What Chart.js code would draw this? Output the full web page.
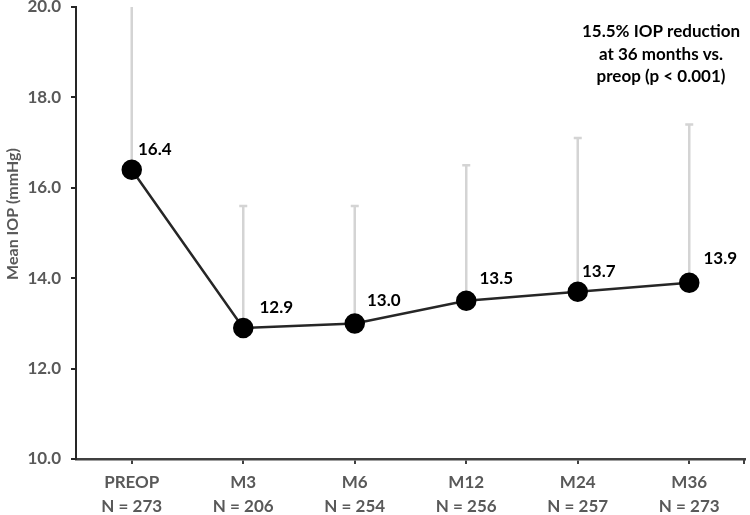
<!DOCTYPE html>
<html>
<head>
<meta charset="utf-8">
<script src="https://cdn.jsdelivr.net/npm/chart.js@4.4.1/dist/chart.umd.min.js"></script>
<style>
  html, body { margin: 0; padding: 0; background: #fff; }
  #wrap { width: 750px; height: 515px; position: relative; }
</style>
</head>
<body>
<div id="wrap"><canvas id="c"></canvas></div>
<script>
const categories = ['PREOP', 'M3', 'M6', 'M12', 'M24', 'M36'];
const sampleSizes = [273, 206, 254, 256, 257, 273];
const meanIOP = [16.4, 12.9, 13.0, 13.5, 13.7, 13.9];
const upperBar = [20.4, 15.6, 15.6, 16.5, 17.1, 17.4];
const yTicks = [10, 12, 14, 16, 18, 20];
const yTitle = 'Mean IOP (mmHg)';
const noteLines = ['15.5% IOP reduction', 'at 36 months vs.', 'preop (p < 0.001)'];

const FONT = 'Lato, "Open Sans", sans-serif';
const labelOffsets = [[23, -20], [33, -20], [29, -23], [30, -22], [21, -20], [31, -24]];

const errorBars = {
  id: 'errorBars',
  beforeDatasetsDraw(chart) {
    const ctx = chart.ctx, y = chart.scales.y, area = chart.chartArea;
    const meta = chart.getDatasetMeta(0);
    ctx.save();
    ctx.beginPath();
    ctx.rect(area.left, area.top, area.right - area.left, area.bottom - area.top);
    ctx.clip();
    ctx.strokeStyle = '#d4d4d4';
    ctx.lineWidth = 2.5;
    meta.data.forEach((pt, i) => {
      const yTop = y.getPixelForValue(upperBar[i]);
      ctx.beginPath();
      ctx.moveTo(pt.x, pt.y);
      ctx.lineTo(pt.x, yTop);
      ctx.moveTo(pt.x - 4, yTop);
      ctx.lineTo(pt.x + 4, yTop);
      ctx.stroke();
    });
    ctx.restore();
  }
};

const valueLabels = {
  id: 'valueLabels',
  afterDatasetsDraw(chart) {
    const ctx = chart.ctx;
    const meta = chart.getDatasetMeta(0);
    ctx.save();
    ctx.font = 'bold 17px ' + FONT;
    ctx.fillStyle = '#000';
    ctx.textAlign = 'center';
    ctx.textBaseline = 'middle';
    meta.data.forEach((pt, i) => {
      const o = labelOffsets[i];
      ctx.fillText(meanIOP[i].toFixed(1), pt.x + o[0], pt.y + o[1]);
    });
    ctx.restore();
  }
};

const extras = {
  id: 'extras',
  afterDraw(chart) {
    const ctx = chart.ctx, area = chart.chartArea;
    ctx.save();
    // annotation
    ctx.font = 'bold 17px ' + FONT;
    ctx.fillStyle = '#000';
    ctx.textAlign = 'center';
    ctx.textBaseline = 'middle';
    noteLines.forEach((t, i) => ctx.fillText(t, 661, 32 + i * 22.5));
    // y-axis title
    ctx.save();
    ctx.translate(13, 214);
    ctx.rotate(-Math.PI / 2);
    ctx.font = 'bold 16px ' + FONT;
    ctx.fillStyle = '#595959';
    ctx.fillText(yTitle, 0, 0);
    ctx.restore();
    // tick at the right end of the x axis
    ctx.strokeStyle = '#404040';
    ctx.lineWidth = 2;
    ctx.beginPath();
    ctx.moveTo(area.right - 1, area.bottom);
    ctx.lineTo(area.right - 1, area.bottom + 5);
    ctx.stroke();
    ctx.restore();
  }
};

new Chart(document.getElementById('c'), {
  type: 'line',
  data: {
    labels: categories.map((c, i) => [c, 'N = ' + sampleSizes[i]]),
    datasets: [{
      data: meanIOP,
      borderColor: '#262626',
      borderWidth: 2.5,
      backgroundColor: '#000',
      pointBackgroundColor: '#000',
      pointBorderColor: '#000',
      pointRadius: 9,
      pointHoverRadius: 9,
      tension: 0,
      clip: false
    }]
  },
  options: {
    responsive: true,
    maintainAspectRatio: false,
    animation: false,
    layout: { autoPadding: false, padding: { top: 0, right: 0, left: 0, bottom: 0 } },
    plugins: { legend: { display: false }, tooltip: { enabled: false } },
    scales: {
      x: {
        type: 'category',
        offset: true,
        grid: { drawOnChartArea: false, drawTicks: true, tickLength: 5, color: '#404040', lineWidth: 2, offset: false },
        border: { display: true, color: '#404040', width: 2.5 },
        ticks: {
          color: '#595959',
          font: { family: FONT, size: 17, weight: 'bold', lineHeight: 1.42 },
          padding: 6,
          maxRotation: 0,
          autoSkip: false
        },
        afterFit(s) { s.height = 56; s.paddingRight = 5; s.paddingLeft = 0; }
      },
      y: {
        min: yTicks[0],
        max: yTicks[yTicks.length - 1],
        afterBuildTicks(s) { s.ticks = yTicks.map(v => ({ value: v })); },
        grid: { drawOnChartArea: false, drawTicks: true, tickLength: 5, color: '#262626', lineWidth: 2 },
        border: { display: true, color: '#262626', width: 2 },
        ticks: {
          color: '#595959',
          font: { family: FONT, size: 17, weight: 'bold' },
          padding: 10,
          callback: v => Number(v).toFixed(1)
        },
        title: { display: false },
        afterFit(s) { s.width = 76; s.paddingTop = 7; s.paddingBottom = 0; }
      }
    }
  },
  plugins: [errorBars, valueLabels, extras]
});
</script>
</body>
</html>
